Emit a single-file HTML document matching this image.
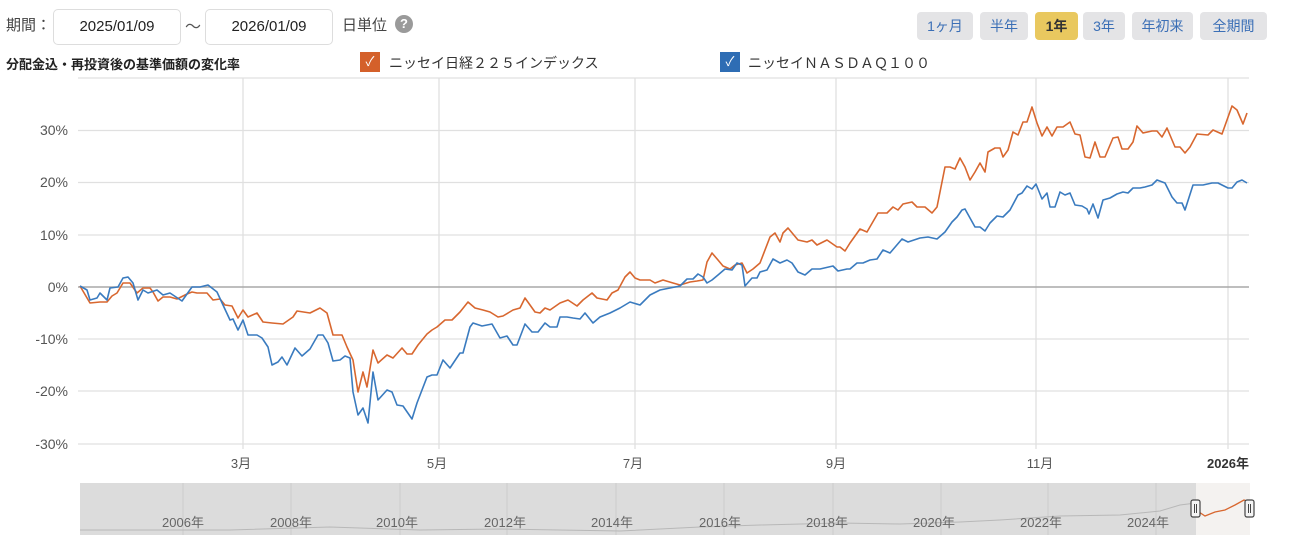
<!DOCTYPE html>
<html><head><meta charset="utf-8"><style>
body{margin:0;width:1290px;height:549px;background:#fff;font-family:"Liberation Sans","Noto Sans CJK JP",sans-serif;position:relative;overflow:hidden;color:#333}
.a{position:absolute;white-space:nowrap}
.box{position:absolute;border:1px solid #ddd;border-radius:5px;background:#fff;font-size:15px;text-align:center;line-height:34px;color:#222}
.btn{position:absolute;top:12px;height:28px;line-height:28px;background:#e4e4e6;border-radius:4px;color:#3b6fb6;font-size:14px;text-align:center}
</style></head><body>
<div class="a" style="left:6px;top:14px;font-size:15px;color:#444">期間：</div>
<div class="box" style="left:53px;top:9px;width:126px;height:34px">2025/01/09</div>
<div class="a" style="left:185px;top:13px;font-size:16px;color:#555">〜</div>
<div class="box" style="left:205px;top:9px;width:126px;height:34px">2026/01/09</div>
<div class="a" style="left:342px;top:14px;font-size:15px;color:#444">日単位</div>
<div class="a" style="left:395px;top:15px;width:18px;height:18px;border-radius:50%;background:#9a9a9a;color:#fff;font-size:13px;font-weight:bold;text-align:center;line-height:18px">?</div>
<div class="btn" style="left:917px;width:56px">1ヶ月</div>
<div class="btn" style="left:980px;width:48px">半年</div>
<div class="btn" style="left:1035px;width:43px;background:#e9c85f;color:#333;font-weight:bold">1年</div>
<div class="btn" style="left:1083px;width:42px">3年</div>
<div class="btn" style="left:1132px;width:61px">年初来</div>
<div class="btn" style="left:1200px;width:67px">全期間</div>
<div class="a" style="left:6px;top:54px;font-size:13px;font-weight:bold;color:#222">分配金込・再投資後の基準価額の変化率</div>
<div class="a" style="left:360px;top:52px;width:20px;height:20px;background:#d4602a;color:#fff;font-size:13px;text-align:center;line-height:20px">✓</div>
<div class="a" style="left:389px;top:53px;font-size:14px;color:#333">ニッセイ日経２２５インデックス</div>
<div class="a" style="left:720px;top:52px;width:20px;height:20px;background:#2e6db4;color:#fff;font-size:13px;text-align:center;line-height:20px">✓</div>
<div class="a" style="left:748px;top:53px;font-size:14px;color:#333">ニッセイＮＡＳＤＡＱ１００</div>
<svg class="a" style="left:0;top:0" width="1290" height="549">
<g stroke="#e0e0e0" stroke-width="1.3" fill="none">
<line x1="78" y1="78" x2="1249" y2="78"/><line x1="78" y1="130.5" x2="1249" y2="130.5"/><line x1="78" y1="182.5" x2="1249" y2="182.5"/><line x1="78" y1="235" x2="1249" y2="235"/><line x1="78" y1="339" x2="1249" y2="339"/><line x1="78" y1="391" x2="1249" y2="391"/><line x1="78" y1="444" x2="1249" y2="444"/>
<line x1="243" y1="78" x2="243" y2="449"/><line x1="439" y1="78" x2="439" y2="449"/><line x1="635" y1="78" x2="635" y2="449"/><line x1="836" y1="78" x2="836" y2="449"/><line x1="1036" y1="78" x2="1036" y2="449"/><line x1="1228" y1="78" x2="1228" y2="449"/>
</g>
<line x1="78" y1="287" x2="1249" y2="287" stroke="#a8a8a8" stroke-width="1.5"/>
<g font-size="14" fill="#555" text-anchor="end">
<text x="68" y="135">30%</text><text x="68" y="187">20%</text><text x="68" y="240">10%</text><text x="68" y="292">0%</text><text x="68" y="344">-10%</text><text x="68" y="396">-20%</text><text x="68" y="449">-30%</text>
</g>
<g font-size="13" fill="#555" text-anchor="middle">
<text x="241" y="468">3月</text><text x="437" y="468">5月</text><text x="633" y="468">7月</text><text x="836" y="468">9月</text><text x="1040" y="468">11月</text><text x="1228" y="468" font-weight="bold" fill="#333">2026年</text>
</g>
<polyline fill="none" stroke="#d8672f" stroke-width="1.6" stroke-linejoin="round" points="80,286 90,303 100,302 107,302 112,296 117,293 123,283 130,283 137,293 143,288 150,288 153,292 158,301 163,297 170,297 177,299 187,294 192,292 197,293 207,293 213,300 220,299 225,305 232,306 238,318 243,310 248,317 257,313 263,322 272,323 283,324 293,317 297,311 310,313 320,308 327,313 333,335 342,335 347,347 353,360 358,392 363,372 367,387 373,350 378,363 387,355 393,358 402,348 407,354 412,354 418,345 427,334 432,330 437,327 445,320 452,320 460,312 468,302 475,308 483,310 490,312 498,317 503,316 513,310 520,308 525,298 535,312 540,313 545,308 550,310 560,303 568,300 577,306 583,300 592,293 597,298 607,300 612,293 618,290 625,277 630,272 635,278 640,280 650,280 655,283 663,280 673,283 680,285 690,282 697,281 703,280 707,262 712,253 718,260 723,266 730,269 735,265 742,263 747,273 753,269 760,263 770,237 775,233 780,242 783,233 788,228 798,240 807,242 812,240 817,245 827,240 837,247 840,247 845,251 850,243 860,229 867,232 878,213 887,213 893,207 898,210 903,204 912,202 917,207 925,207 932,213 937,207 945,167 950,167 955,169 960,158 965,167 970,180 975,172 980,163 985,172 988,152 995,148 1000,148 1003,157 1008,150 1013,132 1018,135 1023,122 1027,122 1032,107 1037,123 1042,136 1047,127 1052,136 1057,127 1063,127 1070,122 1075,134 1080,135 1085,157 1090,158 1095,142 1100,157 1105,157 1113,138 1118,137 1122,149 1128,149 1133,142 1137,126 1143,133 1152,131 1157,131 1162,137 1167,128 1175,147 1180,147 1185,153 1190,147 1197,134 1208,135 1213,130 1222,134 1232,106 1237,110 1243,124 1247,113"/>
<polyline fill="none" stroke="#3a7bbf" stroke-width="1.6" stroke-linejoin="round" points="80,286 87,290 90,300 97,298 100,293 107,300 110,288 118,287 123,278 128,277 133,283 138,300 143,290 148,293 157,290 163,295 170,293 182,301 192,287 200,287 208,285 217,292 223,305 230,320 233,319 238,330 243,320 248,335 257,335 262,338 268,347 272,365 278,362 282,357 287,365 295,348 302,356 310,349 318,335 323,335 328,343 333,361 340,360 345,356 350,358 353,392 358,415 363,408 368,423 373,372 378,400 387,390 392,392 397,405 403,406 412,419 417,403 427,377 432,375 437,375 443,360 450,368 460,353 463,353 470,327 473,323 482,326 492,324 500,338 507,336 513,345 517,345 525,324 532,332 538,332 545,323 550,327 557,327 560,317 567,317 573,318 580,319 585,313 593,323 600,317 610,313 620,308 630,302 640,305 650,295 660,290 670,288 680,286 687,279 693,279 698,274 703,277 707,283 712,280 718,275 725,269 732,270 737,263 742,265 745,286 752,278 757,278 760,272 767,270 773,259 780,263 787,260 792,263 798,272 805,275 812,269 820,269 833,266 838,271 847,269 850,269 857,263 863,263 870,260 877,259 883,250 890,253 902,239 908,242 920,238 928,237 937,239 945,232 952,222 957,217 962,210 965,209 975,227 980,227 985,231 990,223 997,216 1003,217 1010,210 1018,195 1022,193 1027,186 1032,189 1036,184 1042,199 1047,193 1050,207 1055,207 1060,192 1065,195 1070,193 1075,205 1082,206 1087,209 1089,214 1093,204 1098,218 1103,200 1110,198 1117,194 1123,192 1128,193 1133,188 1140,188 1145,187 1152,185 1157,180 1165,183 1172,197 1177,203 1182,203 1185,210 1193,185 1203,185 1212,183 1218,183 1228,188 1232,188 1237,182 1242,180 1247,183"/>
<rect x="80" y="483" width="1116" height="52" fill="#dcdcdc"/>
<rect x="1196" y="483" width="54" height="52" fill="#f4f2f0"/>
<g stroke="#cbcbcb" stroke-width="1"><line x1="183" y1="483" x2="183" y2="535"/><line x1="291" y1="483" x2="291" y2="535"/><line x1="400" y1="483" x2="400" y2="535"/><line x1="507" y1="483" x2="507" y2="535"/><line x1="616" y1="483" x2="616" y2="535"/><line x1="724" y1="483" x2="724" y2="535"/><line x1="833" y1="483" x2="833" y2="535"/><line x1="941" y1="483" x2="941" y2="535"/><line x1="1048" y1="483" x2="1048" y2="535"/><line x1="1156" y1="483" x2="1156" y2="535"/></g>
<polyline fill="none" stroke="#b8b8b8" stroke-width="1" points="80,530 230,530 330,527 420,530 500,529 560,530 620,531 700,527 760,525 840,523 900,524 960,522 1000,520 1060,516 1120,515 1160,511 1180,505 1196,503"/>
<polyline fill="none" stroke="#d8672f" stroke-width="1.3" points="1196,510 1205,516 1215,512 1225,510 1235,505 1244,500 1249,502"/>
<g font-size="13" fill="#666" text-anchor="middle">
<text x="183" y="527">2006年</text><text x="291" y="527">2008年</text><text x="397" y="527">2010年</text><text x="505" y="527">2012年</text><text x="612" y="527">2014年</text><text x="720" y="527">2016年</text><text x="827" y="527">2018年</text><text x="934" y="527">2020年</text><text x="1041" y="527">2022年</text><text x="1148" y="527">2024年</text>
</g>
<g fill="#f4f4f4" stroke="#444" stroke-width="1.2">
<rect x="1191" y="500" width="9" height="17" rx="2"/><rect x="1245" y="500" width="9" height="17" rx="2"/>
</g>
<g stroke="#444" stroke-width="1"><line x1="1194.5" y1="504" x2="1194.5" y2="513"/><line x1="1196.5" y1="504" x2="1196.5" y2="513"/><line x1="1248.5" y1="504" x2="1248.5" y2="513"/><line x1="1250.5" y1="504" x2="1250.5" y2="513"/></g>
</svg>
</body></html>
